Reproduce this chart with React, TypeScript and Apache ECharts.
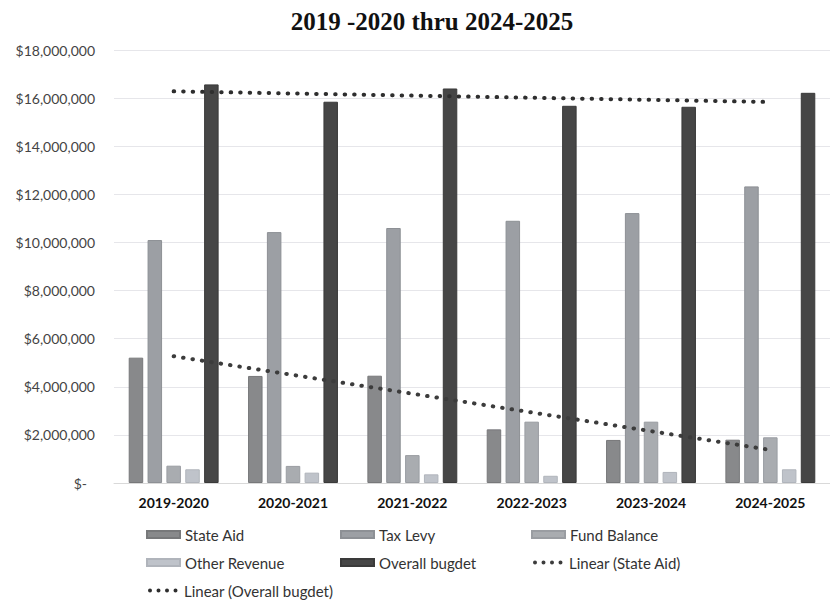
import React, { useEffect, useRef } from "react";
import * as echarts from "echarts";

const categories = ["2019-2020", "2020-2021", "2021-2022", "2022-2023", "2023-2024", "2024-2025"];
const stateAid = [5210000, 4450000, 4460000, 2230000, 1790000, 1800000];
const taxLevy = [10100000, 10430000, 10600000, 10900000, 11220000, 12330000];
const fundBalance = [720000, 710000, 1160000, 2550000, 2550000, 1900000];
const otherRevenue = [570000, 430000, 360000, 300000, 460000, 570000];
const overallBudget = [16570000, 15850000, 16400000, 15680000, 15640000, 16220000];
const yTicks = { min: 0, max: 18000000, interval: 2000000 };

function linearTrend(values: number[]): number[] {
  const n = values.length;
  const xs = values.map((_, i) => i + 1);
  const mx = xs.reduce((a, b) => a + b, 0) / n;
  const my = values.reduce((a, b) => a + b, 0) / n;
  let sxy = 0;
  let sxx = 0;
  for (let i = 0; i < n; i++) {
    sxy += (xs[i] - mx) * (values[i] - my);
    sxx += (xs[i] - mx) * (xs[i] - mx);
  }
  const slope = sxy / sxx;
  return xs.map((x) => my + slope * (x - mx));
}

function fmtMoney(v: number): string {
  if (v === 0) return "{z|$-}";
  return "$" + v.toLocaleString("en-US");
}

// four round dots inside a 33x7 box (corner points fix the bounding box)
const dotsIcon =
  "path://M0,0L0.01,0L0,0.01Z M33,7L32.99,7L33,6.99Z " +
  [4, 12.5, 21, 29.5]
    .map((cx) => `M${cx - 2},3.5A2,2,0,1,1,${cx + 2},3.5A2,2,0,1,1,${cx - 2},3.5Z`)
    .join(" ");

export default function App() {
  const ref = useRef<HTMLDivElement>(null);
  useEffect(() => {
    document.body.style.margin = "0";
    if (!ref.current) return;
    const chart = echarts.init(ref.current, undefined, { renderer: "svg" });
    const font = "Lato";
    const legendText = { fontFamily: font, fontSize: 15, color: "#333" };
    const legendBase = {
      itemWidth: 33,
      itemHeight: 7,
      itemGap: 0,
      textStyle: legendText,
      selectedMode: false,
      padding: 0,
    };
    const barCommon = { type: "bar", barWidth: 14.5, barGap: "30%" };
    const dotted = (color: string) => ({
      width: 4,
      type: [0.5, 9],
      cap: "round",
      color,
    });
    chart.setOption({
      animation: false,
      backgroundColor: "#ffffff",
      title: {
        text: "2019 -2020 thru 2024-2025",
        left: 427,
        textAlign: "center",
        top: 4,
        textStyle: {
          fontFamily: "Liberation Serif",
          fontWeight: "bold",
          fontSize: 25,
          color: "#111",
        },
      },
      legend: [
        { ...legendBase, data: [{ name: "State Aid", icon: "rect" }], left: 146, top: 527 },
        { ...legendBase, data: [{ name: "Tax Levy", icon: "rect" }], left: 340, top: 527 },
        { ...legendBase, data: [{ name: "Fund Balance", icon: "rect" }], left: 531, top: 527 },
        { ...legendBase, data: [{ name: "Other Revenue", icon: "rect" }], left: 146, top: 555 },
        { ...legendBase, data: [{ name: "Overall bugdet", icon: "rect" }], left: 340, top: 555 },
        { ...legendBase, data: [{ name: "Linear (State Aid)", icon: dotsIcon }], left: 531, top: 555 },
        { ...legendBase, data: [{ name: "Linear (Overall bugdet)", icon: dotsIcon }], left: 146, top: 583 },
      ],
      grid: { left: 114, top: 50, width: 724, height: 433 },
      xAxis: {
        type: "category",
        data: categories,
        axisLine: { show: true, lineStyle: { color: "#d9d9d9" } },
        axisTick: { show: false },
        axisLabel: {
          margin: 12,
          fontFamily: font,
          fontWeight: "bold",
          fontSize: 14,
          color: "#111",
        },
      },
      yAxis: {
        type: "value",
        min: yTicks.min,
        max: yTicks.max,
        interval: yTicks.interval,
        axisLine: { show: false },
        axisTick: { show: false },
        splitLine: { lineStyle: { color: "#e6e6ea", width: 1 } },
        axisLabel: {
          margin: 19,
          formatter: fmtMoney,
          fontFamily: font,
          fontSize: 14,
          color: "#444",
          rich: { z: { fontFamily: font, fontSize: 14, color: "#444", padding: [0, 8, 0, 0] } },
        },
      },
      series: [
        { ...barCommon, name: "State Aid", data: stateAid, itemStyle: { color: "#88898b", borderColor: "#77787a", borderWidth: 1 } },
        { ...barCommon, name: "Tax Levy", data: taxLevy, itemStyle: { color: "#9c9fa4", borderColor: "#8d9095", borderWidth: 1 } },
        { ...barCommon, name: "Fund Balance", data: fundBalance, itemStyle: { color: "#a9acb0", borderColor: "#9a9da2", borderWidth: 1 } },
        { ...barCommon, name: "Other Revenue", data: otherRevenue, itemStyle: { color: "#bfc3ca", borderColor: "#b0b4bb", borderWidth: 1 } },
        { ...barCommon, name: "Overall bugdet", data: overallBudget, itemStyle: { color: "#464646", borderColor: "#3a3a3a", borderWidth: 1 } },
        {
          type: "line",
          name: "Linear (State Aid)",
          data: linearTrend(stateAid),
          symbol: "none",
          z: 5,
          lineStyle: dotted("#3c3c3c"),
          itemStyle: { color: "#3c3c3c" },
        },
        {
          type: "line",
          name: "Linear (Overall bugdet)",
          data: linearTrend(overallBudget),
          symbol: "none",
          z: 5,
          lineStyle: dotted("#2e2e2e"),
          itemStyle: { color: "#2e2e2e" },
        },
      ],
    });
    return () => chart.dispose();
  }, []);
  return <div ref={ref} style={{ width: 830, height: 601 }} />;
}
